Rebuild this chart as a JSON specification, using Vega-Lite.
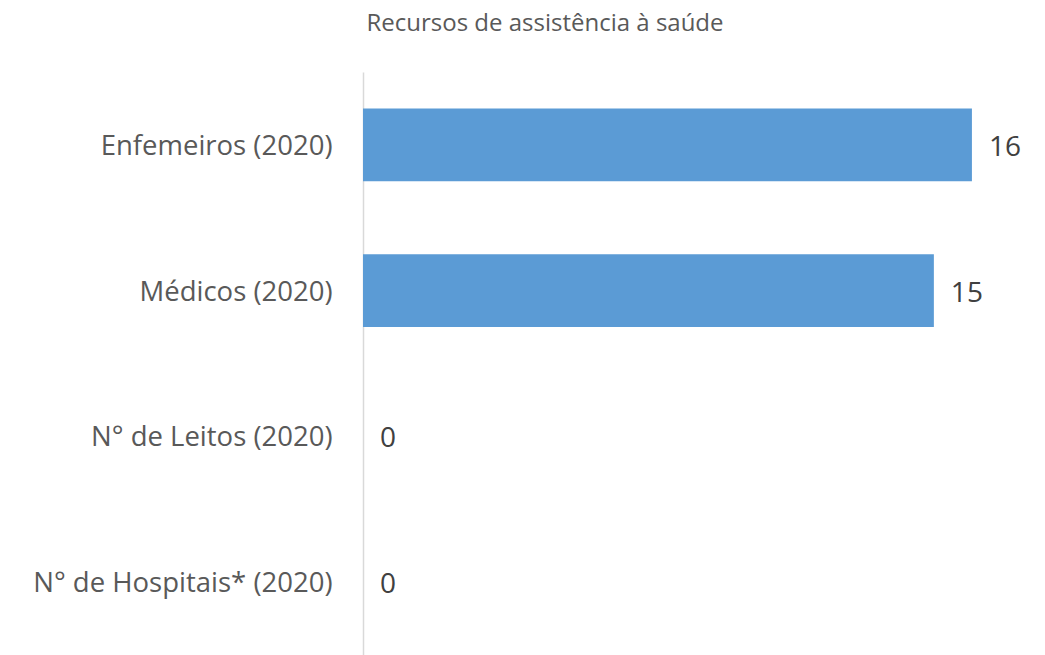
{
  "$schema": "https://vega.github.io/schema/vega-lite/v6.json",
  "autosize": "none",
  "padding": {"left": 363, "top": 72, "right": 0, "bottom": 0},
  "width": 682,
  "height": 583,
  "background": "white",
  "title": {
    "text": "Recursos de assistência à saúde",
    "font": "Open Sans",
    "fontSize": 24,
    "fontWeight": "normal",
    "color": "#595959",
    "anchor": "middle",
    "dx": -159,
    "offset": 36
  },
  "data": {
    "values": [
      {"categoria": "Enfemeiros (2020)", "valor": 16},
      {"categoria": "Médicos (2020)", "valor": 15},
      {"categoria": "N° de Leitos (2020)", "valor": 0},
      {"categoria": "N° de Hospitais* (2020)", "valor": 0}
    ]
  },
  "encoding": {
    "y": {
      "field": "categoria",
      "type": "nominal",
      "sort": null,
      "scale": {"paddingInner": 0.5, "paddingOuter": 0.25},
      "axis": {
        "title": null,
        "ticks": false,
        "domainColor": "#d9d9d9",
        "domainWidth": 1.5,
        "labelFont": "Open Sans",
        "labelFontSize": 27.5,
        "labelColor": "#595959",
        "labelPadding": 31,
        "labelLimit": 400,
        "labelOffset": 2
      }
    },
    "x": {
      "field": "valor",
      "type": "quantitative",
      "scale": {"domain": [0, 17.92], "nice": false},
      "axis": null
    }
  },
  "layer": [
    {"mark": {"type": "bar", "color": "#5B9BD5"}},
    {
      "mark": {
        "type": "text",
        "align": "left",
        "dx": 17,
        "dy": 3,
        "font": "Open Sans",
        "fontSize": 28,
        "color": "#404040"
      },
      "encoding": {"text": {"field": "valor", "type": "quantitative"}}
    }
  ],
  "config": {"view": {"stroke": null}}
}
